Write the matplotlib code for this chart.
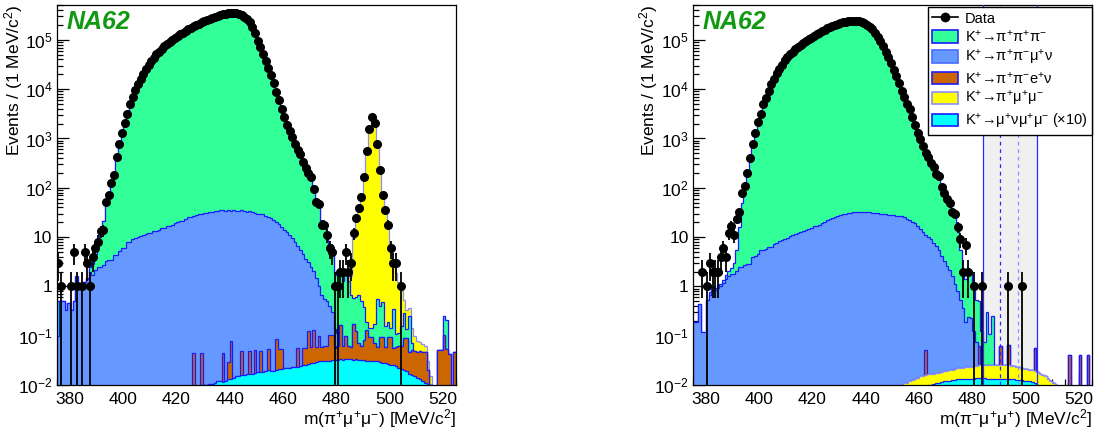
import numpy as np
import matplotlib
matplotlib.use('Agg')
import matplotlib.pyplot as plt
from matplotlib.patches import Patch
from matplotlib.lines import Line2D
from matplotlib.ticker import FixedLocator, FuncFormatter, NullFormatter

plt.rcParams['font.family'] = ['Liberation Sans', 'DejaVu Sans']
plt.rcParams['mathtext.fontset'] = 'custom'
plt.rcParams['mathtext.rm'] = 'Liberation Sans'
plt.rcParams['mathtext.it'] = 'Liberation Sans:italic'
plt.rcParams['mathtext.bf'] = 'Liberation Sans:bold'

# ---------------- data: 1 MeV bins, lower edges 375 ... 524 ----------------
bin_lo = 375
n_bins = 150

# ===== LEFT PANEL: m(pi+ mu+ mu-) =====
cyan_L = [0]*45 + [
    0.0065, 0.007, 0.0075, 0.008, 0.0085,
    0.009, 0.009, 0.0095, 0.0095, 0.0098, 0.01, 0.01, 0.0103, 0.0106, 0.011,
    0.012, 0.012, 0.0115, 0.012, 0.013, 0.0135, 0.014, 0.015, 0.0155, 0.016,
    0.016, 0.017, 0.017, 0.017, 0.0175, 0.018, 0.018, 0.018, 0.019, 0.02,
    0.0195, 0.0195, 0.02, 0.021, 0.021, 0.022, 0.0225, 0.0225, 0.023, 0.023,
    0.023, 0.024, 0.025, 0.025, 0.027, 0.028, 0.028, 0.029, 0.03, 0.03,
    0.031, 0.031, 0.031, 0.032, 0.032, 0.032, 0.033, 0.032, 0.033, 0.033,
    0.033, 0.032, 0.033, 0.032, 0.032, 0.032, 0.031, 0.031, 0.031, 0.03,
    0.03, 0.029, 0.028, 0.028, 0.027, 0.026, 0.025, 0.024, 0.022, 0.021,
    0.02, 0.019, 0.017, 0.016, 0.015, 0.014, 0.013, 0.012, 0.011, 0.0105,
    0.01, 0.009, 0.008, 0.007, 0.006, 0.005, 0.004, 0.003, 0.002, 0.001]

orange_L = [0]*50 + [
    0, 0.035, 0, 0, 0.035, 0, 0, 0, 0, 0,
    0, 0, 0.034, 0, 0.016, 0.065, 0, 0, 0, 0.034,
    0, 0, 0.033, 0, 0.033, 0, 0.032, 0, 0, 0.033,
    0, 0, 0.065, 0.032, 0.032, 0, 0, 0, 0, 0,
    0.032, 0, 0.031, 0.031, 0.10, 0.03, 0.10, 0.03, 0.07, 0.03,
    0.03, 0.03, 0.07, 0.07, 0.025, 0.03, 0.13, 0.03, 0.065, 0.03,
    0.025, 0.14, 0.09, 0.04, 0.03, 0.05, 0.1, 0.065, 0.065, 0.04,
    0.03, 0.065, 0.065, 0.03, 0.065, 0.07, 0.03, 0.035, 0.04, 0.04,
    0.07, 0.07, 0.03, 0.035, 0.035, 0.033, 0.035, 0.035, 0.035, 0.01,
    0, 0, 0, 0.045, 0.045, 0.1, 0.05, 0.04, 0, 0.045]

blue_L = [
    0.1, 0.5, 0.5, 0.33, 0.45, 0.33, 0.5, 1.3, 0.9, 1.1,
    1.2, 1.4, 2.0, 1.7, 2.2, 2.5, 2.5, 2.7, 3.2, 3.5,
    3.5, 4.3, 4.3, 5.2, 6.0, 6.0, 7.9, 7.9, 9.0, 9.5,
    10, 10.5, 11, 11.5, 12, 12, 13, 13.5, 14, 15,
    15.5, 17, 17, 18, 19, 20, 21, 21.5, 23, 25,
    26, 27, 28, 29, 30, 31, 31, 32, 33, 34,
    34, 35, 35, 34, 35, 34, 35, 34, 34, 35,
    34, 33, 33, 32, 31, 30, 30, 29, 27, 26,
    24, 22, 20, 18, 16, 14, 12.5, 11, 9.5, 8,
    6.5, 5.5, 4.5, 3.6, 3.0, 2.4, 1.9, 1.4, 0.9, 0.6,
    0.5, 0.45, 0.3, 0.2, 0.08, 0.05, 0, 0, 0, 0] + [0]*40

green_L = [
    0.4, 0, 0, 0, 0, 0, 0, 0.3, 0, 0,
    0, 0.1, 0.5, 1.2, 2.3, 4.5, 9, 19, 50, 70,
    120, 180, 400, 720, 1300, 2050, 3150, 4800, 6700, 9600,
    12600, 16200, 20400, 25500, 30500, 37000, 43000, 50000, 57000, 65000,
    73000, 81000, 89000, 98000, 107000, 117000, 127000, 138000, 150000, 162000,
    174000, 187000, 200000, 213000, 226000, 240000, 253000, 266000, 280000, 293000,
    305000, 318000, 330000, 342000, 352000, 358000, 360000, 355000, 340000, 320000,
    298000, 275000, 235000, 186000, 137000, 93000, 71000, 52000, 37000, 27000,
    19000, 13500, 8700, 6000, 4000, 2770, 1850, 1420, 1090, 780,
    590, 490, 330, 250, 200, 170, 94, 56, 47, 20,
    15, 10, 5.5, 4.5, 1.8, 1.6, 1.6, 1.2, 1.6, 1.2,
    0.6, 0.4, 0.5, 0.6, 0.45, 0.3, 0.06, 0.05, 0.05, 0.1,
    0.5, 0.3, 0.4, 0.1, 0.1, 0.05, 0.3, 0.05, 0.05, 0.1,
    0.2, 0.05, 0.2, 0.02, 0, 0, 0, 0, 0, 0,
    0, 0, 0, 0, 0, 0.15, 0.15, 0, 0, 0]

yellow_L = [0]*103 + [
    0.02, 0.05, 0.03, 0.05, 0.4, 0.1, 0.2,
    1.0, 9, 20, 36, 68, 163, 548, 1500, 2650, 2100,
    800, 234, 74, 35, 16, 6.5, 3.0, 1.8, 1.1, 0.7,
    0.25, 0.2, 0.12, 0.07, 0.05, 0.03, 0.025, 0.02, 0.015, 0.01,
    0.005, 0, 0, 0, 0, 0, 0, 0, 0, 0]

data_L = [
    3, 1, 0, 0, 0, 1, 5, 1, 0, 1,
    5, 3, 1, 4, 6, 8, 13, 14, 51, 72,
    126, 182, 427, 760, 1320, 2090, 3160, 4950, 6800, 9700,
    12700, 16300, 20500, 25600, 31200, 37800, 43700, 50800, 57800, 65500,
    73600, 82100, 90200, 99100, 108500, 118200, 128600, 139500, 151300, 163200,
    175400, 188100, 201000, 214300, 227200, 240900, 254100, 267300, 280500, 293400,
    305800, 318200, 329600, 340200, 349800, 356300, 357900, 352100, 337800, 316900,
    293200, 266100, 226400, 183200, 137900, 94100, 71300, 52300, 37400, 27100,
    19200, 13500, 8800, 6050, 4020, 2760, 1860, 1410, 1080, 790,
    590, 485, 335, 252, 198, 168, 95, 52, 47, 18,
    18, 11, 6, 5, 1, 1, 2, 2, 5, 2,
    3, 12, 24, 39, 66, 162, 560, 1550, 2700, 2040,
    790, 230, 72, 35, 18, 6, 3, 3, 0, 1] + [0]*20

# ===== RIGHT PANEL: m(pi- mu+ mu+) =====
cyan_R = [0]*75 + [
    0.001, 0.0015, 0.002, 0.0025, 0.003, 0.003, 0.004, 0.005, 0.006, 0.007,
    0.008, 0.0085, 0.009, 0.0098, 0.0102, 0.0105, 0.011, 0.0112, 0.0115, 0.0118,
    0.012, 0.0122, 0.0125, 0.0127, 0.013, 0.013, 0.0132, 0.0133, 0.0134, 0.0135,
    0.0135, 0.0136, 0.0136, 0.0136, 0.0136, 0.0135, 0.0135, 0.0135, 0.0134, 0.0134,
    0.0134, 0.0133, 0.0133, 0.0132, 0.013, 0.013, 0.0128, 0.0126, 0.0124, 0.0122,
    0.012, 0.0118, 0.0115, 0.011, 0.0102, 0.0095, 0.008, 0.007, 0.006, 0.005,
    0.004, 0.003, 0.002, 0.0015, 0.001, 0, 0, 0, 0, 0,
    0, 0, 0, 0, 0]

yellow_R = [0]*75 + [
    0.004, 0.005, 0.0065, 0.0075, 0.008, 0.008, 0.0078, 0.0075, 0.007, 0.007,
    0.007, 0.0068, 0.0068, 0.0067, 0.0066, 0.0066, 0.0065, 0.0066, 0.0068, 0.007,
    0.0075, 0.0078, 0.008, 0.0083, 0.0087, 0.009, 0.0093, 0.0097, 0.01, 0.0102,
    0.0105, 0.011, 0.0113, 0.0116, 0.012, 0.0122, 0.0124, 0.0125, 0.0126, 0.0126,
    0.0126, 0.0125, 0.0124, 0.0123, 0.0118, 0.0113, 0.0107, 0.0102, 0.0097, 0.0093,
    0.009, 0.0087, 0.0083, 0.008, 0.0078, 0.0075, 0.0078, 0.008, 0.0075, 0.007,
    0.0068, 0.0072, 0.007, 0.006, 0.004, 0.002, 0, 0, 0, 0,
    0, 0, 0, 0, 0]

orange_R = [0]*87 + [0.035] + [0]*19 + [0.038] + [0]*7 + [0.036] + [0, 0] + \
    [0.038] + [0]*9 + [0.036] + [0]*12 + [0.041] + [0]*3 + [0.041] + [0, 0] + [0.040, 0]

blue_R = [
    0.19, 0.19, 0.43, 0.12, 0.12, 0.54, 0.66, 0.84, 0.84, 0.92,
    1.0, 1.15, 1.4, 1.6, 1.8, 1.8, 2.1, 2.5, 2.5, 2.7,
    2.9, 2.9, 3.9, 4.2, 4.6, 5.4, 5.5, 5.8, 6.3, 6.4,
    7.3, 7.6, 8.2, 8.6, 9.2, 9.8, 10.3, 11, 11.5, 12,
    12.8, 13.5, 14, 14.5, 15.5, 16.5, 17, 18, 19, 20.5,
    22, 23, 24, 25.5, 26.5, 28, 29, 30, 31, 31.5,
    32, 32, 32.5, 32, 32, 32, 32, 31.5, 31, 30.5,
    30, 29.5, 29, 28.5, 28, 27.5, 27, 27, 26.5, 25,
    23, 22, 20.5, 19, 17, 14.5, 12.5, 11, 10, 9,
    7.5, 6.5, 5.5, 4.2, 3.3, 2.6, 2.1, 1.6, 1.1, 0.8,
    0.5, 0.34, 0.17, 0.22, 0.2, 0.1, 0.05, 0, 0, 0] + [0]*40

green_R = [
    0, 0, 0, 0, 0, 0, 0.1, 0.15, 0.1, 0.15,
    0.1, 0.2, 0.3, 0.5, 0.6, 1.2, 3.4, 13.5, 47, 107,
    177, 330, 700, 1250, 2050, 3100, 4900, 6600, 9200, 12400,
    16000, 20500, 25000, 30500, 38000, 44000, 50000, 57000, 64000, 71000,
    78000, 86000, 94000, 102000, 111000, 120000, 130000, 140000, 150000, 160000,
    173000, 182000, 191000, 200000, 209000, 218000, 226000, 233000, 238000, 242000,
    243000, 241000, 236000, 229000, 219000, 205000, 187000, 165000, 140000, 115000,
    94000, 76000, 58000, 45000, 34000, 25000, 18500, 13500, 9500, 7000,
    5100, 3800, 2750, 1900, 1320, 980, 720, 530, 420, 330,
    260, 200, 160, 110, 80, 60, 48, 34, 27, 14,
    5, 1.6, 1.2, 2.0, 1.8, 0.8, 0.45, 0.45, 0.1, 0.05,
    0.28, 0.08, 0.23, 0, 0, 0, 0, 0, 0, 0] + [0]*30

data_R = [
    0, 0, 0, 2, 0, 1, 3, 2, 2, 2,
    4, 6, 4, 12, 17, 11, 23, 32, 77, 110,
    195, 410, 770, 1320, 2140, 3160, 5040, 6760, 9400, 12600,
    16200, 21000, 25500, 31000, 39000, 44800, 50600, 57900, 64500, 71800,
    78900, 86700, 94600, 102500, 111300, 120800, 130600, 140200, 150700, 160300,
    172500, 181800, 191400, 200600, 209300, 217500, 225800, 232400, 238100, 241600,
    242800, 240700, 236400, 228800, 218300, 204600, 186200, 164800, 139700, 114600,
    94300, 75500, 58000, 44500, 34500, 24500, 18700, 13500, 9300, 6900,
    5050, 3900, 2700, 1900, 1290, 975, 710, 515, 430, 323,
    263, 191, 170, 105, 79, 60, 50, 32, 30, 16,
    9, 2, 7, 2, 0, 1, 0, 0, 1, 0,
    0, 0, 0, 0, 0, 0, 0, 0, 1, 0,
    0, 0, 0, 1, 0, 0, 0, 0, 0, 0] + [0]*20

# signal-region markers on the right panel (MeV/c^2)
band_lo, band_hi = 484.0, 504.2
inner_lo, inner_hi = 490.5, 497.1

x_ticks = [380, 400, 420, 440, 460, 480, 500, 520]
y_decades = [-2, -1, 0, 1, 2, 3, 4, 5]

# ---------------- styling ----------------
C_GREEN = '#33ff99'
C_BLUE = '#6699ff'
C_ORANGE = '#cc6600'
C_YELLOW = '#ffff00'
C_CYAN = '#00ffff'
E_MAIN = '#1a1aff'
E_YELLOW = '#8c8cff'

labels = {
    'g': r'K$^{+}$→π$^{+}$π$^{+}$π$^{-}$',
    'b': r'K$^{+}$→π$^{+}$π$^{-}$μ$^{+}$ν',
    'o': r'K$^{+}$→π$^{+}$π$^{-}$e$^{+}$ν',
    'y': r'K$^{+}$→π$^{+}$μ$^{+}$μ$^{-}$',
    'c': r'K$^{+}$→μ$^{+}$νμ$^{+}$μ$^{-}$ (×10)',
}

for arr in (cyan_L, orange_L, blue_L, green_L, yellow_L, data_L,
            cyan_R, yellow_R, orange_R, blue_R, green_R, data_R):
    assert len(arr) == n_bins, len(arr)

edges = bin_lo + np.arange(n_bins + 1)
centers = edges[:-1] + 0.5

fig = plt.figure(figsize=(10.98, 4.34), dpi=100)
axL = fig.add_axes([0.0516, 0.1129, 0.3637, 0.8756])
axR = fig.add_axes([0.6309, 0.1129, 0.3637, 0.8756])


def draw_stack(ax, comps):
    vals = np.array([np.asarray(v, float) for v, _, _ in comps])
    cum = np.cumsum(vals, axis=0)
    z = 2.0
    for k in range(len(comps) - 1, -1, -1):
        y = np.maximum(cum[k], 1e-6)
        ax.stairs(y, edges, baseline=1e-6, fill=True, facecolor=comps[k][1],
                  edgecolor=comps[k][2], linewidth=0.9, zorder=z)
        z += 0.01


def draw_data(ax, data):
    d = np.asarray(data, float)
    m = d > 0
    y = d[m]
    err = np.sqrt(y)
    lo = np.minimum(err, y - 1e-4)
    ax.errorbar(centers[m], y, yerr=[lo, err], xerr=0.5, fmt='o', color='black',
                ms=5.5, elinewidth=1.3, capsize=0, zorder=5)


def fmt_log(v, pos):
    e = int(round(np.log10(v)))
    if e == 0:
        return '1'
    if e == 1:
        return '10'
    return r'$10^{%d}$' % e


def style(ax, xlabel, ylx):
    ax.set_yscale('log')
    ax.set_xlim(375, 525)
    ax.set_ylim(0.01, 5.1e5)
    ax.xaxis.set_major_locator(FixedLocator(x_ticks))
    ax.xaxis.set_minor_locator(FixedLocator(np.arange(375, 526, 5)))
    ax.yaxis.set_major_locator(FixedLocator([10.0 ** e for e in y_decades]))
    ax.yaxis.set_minor_locator(FixedLocator([m * 10.0 ** e for e in y_decades for m in range(2, 10)
                                             if m * 10.0 ** e < 5.1e5]))
    ax.yaxis.set_major_formatter(FuncFormatter(fmt_log))
    ax.yaxis.set_minor_formatter(NullFormatter())
    ax.tick_params(which='both', direction='in', top=False, right=False, width=0.9)
    ax.tick_params(which='major', length=8.5, labelsize=12.5)
    ax.tick_params(which='minor', length=4.3)
    ax.tick_params(axis='x', which='major', pad=5)
    ax.tick_params(axis='y', which='major', pad=3)
    for s in ax.spines.values():
        s.set_linewidth(0.9)
    ax.set_xlabel(xlabel, fontsize=12.5, loc='right')
    ax.xaxis.set_label_coords(1.0, -0.058)
    ax.set_ylabel('Events / (1 MeV/c$^{2}$)', fontsize=12.5, loc='top')
    ax.yaxis.set_label_coords(ylx, 1.0)
    ax.text(0.025, 0.988, 'NA62', transform=ax.transAxes, ha='left', va='top',
            fontsize=18, fontweight='bold', fontstyle='italic', color='#119911', zorder=6)


# left panel: stack order bottom->top: cyan, orange, blue, green, yellow
draw_stack(axL, [(cyan_L, C_CYAN, E_MAIN), (orange_L, C_ORANGE, E_MAIN),
                 (blue_L, C_BLUE, E_MAIN), (green_L, C_GREEN, E_MAIN),
                 (yellow_L, C_YELLOW, E_YELLOW)])
draw_data(axL, data_L)
style(axL, r'm(π$^{+}$μ$^{+}$μ$^{-}$) [MeV/c$^{2}$]', -0.08)

# right panel
axR.axvspan(band_lo, band_hi, color='#f0f0f0', zorder=1, lw=0)
draw_stack(axR, [(cyan_R, C_CYAN, E_MAIN), (yellow_R, C_YELLOW, E_YELLOW),
                 (orange_R, C_ORANGE, E_MAIN), (blue_R, C_BLUE, E_MAIN),
                 (green_R, C_GREEN, E_MAIN)])
for xv in (band_lo, band_hi):
    axR.axvline(xv, color='#2a2aff', lw=0.9, zorder=3)
axR.axvline(inner_lo, color='#2a2aff', lw=0.9, ls=(0, (3, 3)), zorder=3)
axR.axvline(inner_hi, color='#8c8cff', lw=0.9, ls=(0, (3, 3)), zorder=3)
draw_data(axR, data_R)
style(axR, r'm(π$^{-}$μ$^{+}$μ$^{+}$) [MeV/c$^{2}$]', -0.083)

handles = [Line2D([0], [0], color='black', marker='o', ms=6, lw=1.2),
           Patch(facecolor=C_GREEN, edgecolor=E_MAIN, lw=1.2),
           Patch(facecolor=C_BLUE, edgecolor='#4a6aff', lw=1.2),
           Patch(facecolor=C_ORANGE, edgecolor=E_MAIN, lw=1.2),
           Patch(facecolor=C_YELLOW, edgecolor=E_YELLOW, lw=1.2),
           Patch(facecolor=C_CYAN, edgecolor=E_MAIN, lw=1.2)]
leg = axR.legend(handles, ['Data', labels['g'], labels['b'], labels['o'], labels['y'], labels['c']],
                 loc='upper right', bbox_to_anchor=(1.0, 0.995), borderaxespad=0.0,
                 fontsize=10.5, frameon=True, fancybox=False, edgecolor='black',
                 framealpha=1.0, handlelength=1.8, handleheight=0.95, labelspacing=0.22,
                 handletextpad=0.45, borderpad=0.3)
leg.get_frame().set_linewidth(1.0)
leg.set_zorder(10)

fig.savefig('out.png', dpi=100)
